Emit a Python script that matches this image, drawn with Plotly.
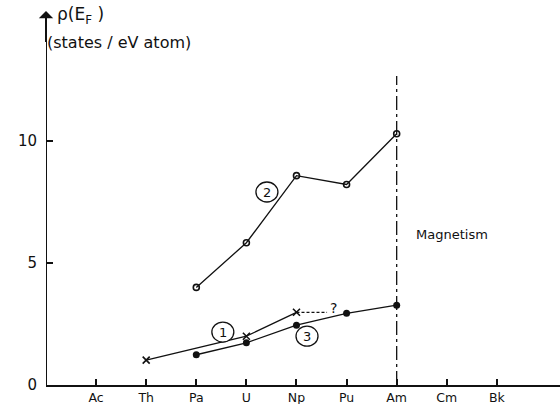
import plotly.graph_objects as go

# categories (x positions are indices)
elements = ["Ac", "Th", "Pa", "U", "Np", "Pu", "Am", "Cm", "Bk"]
elem_idx = [1, 2, 3, 4, 5, 6, 7, 8, 9]

# curve 2 (open circles)
c2_x = [3, 4, 5, 6, 7]
c2_y = [4.0, 5.83, 8.58, 8.22, 10.3]
# curve 1 (crosses)
c1_x = [2, 4, 5]
c1_y = [1.02, 2.0, 2.98]
# curve 3 (filled circles)
c3_x = [3, 4, 5, 6, 7]
c3_y = [1.24, 1.73, 2.45, 2.94, 3.27]
# uncertain extension of curve 1
q_x = [5, 5.61]
q_y = [2.98, 2.98]

y_ticks = [0, 5, 10]
magnet_x = 7
magnet_top = 12.66

# label positions (circled numbers)
lab_text = ["1", "2", "3"]
lab_x = [3.53, 4.41, 5.21]
lab_y = [2.17, 7.91, 2.0]

FONT = "DejaVu Sans"
BLACK = "#111111"

fig = go.Figure()
fig.add_trace(go.Scatter(x=c2_x, y=c2_y, mode="lines+markers",
                         line=dict(color=BLACK, width=1.3),
                         marker=dict(symbol="circle-open", size=6, color=BLACK,
                                     line=dict(width=1.6, color=BLACK))))
fig.add_trace(go.Scatter(x=c1_x, y=c1_y, mode="lines+markers",
                         line=dict(color=BLACK, width=1.3),
                         marker=dict(symbol="x-thin", size=7, color=BLACK,
                                     line=dict(width=1.6, color=BLACK))))
fig.add_trace(go.Scatter(x=c3_x, y=c3_y, mode="lines+markers",
                         line=dict(color=BLACK, width=1.3),
                         marker=dict(symbol="circle", size=7, color=BLACK)))
fig.add_trace(go.Scatter(x=q_x, y=q_y, mode="lines",
                         line=dict(color=BLACK, width=1.2, dash="3px,2px")))
fig.add_trace(go.Scatter(x=[magnet_x, magnet_x], y=[0, magnet_top], mode="lines",
                         line=dict(color=BLACK, width=1.3, dash="14px,4px,3px,4px")))
# y axis line (arrow tip added as annotation)
fig.add_trace(go.Scatter(x=[0, 0], y=[0, 15.0], mode="lines",
                         line=dict(color=BLACK, width=2), cliponaxis=False))

shapes = []
for lx, ly in zip(lab_x, lab_y):
    shapes.append(dict(type="circle", xref="x", yref="y", xsizemode="pixel",
                       ysizemode="pixel", xanchor=lx, yanchor=ly,
                       x0=-11, x1=11, y0=-10, y1=10,
                       line=dict(color=BLACK, width=1.3), fillcolor="white"))

annotations = []
for t, lx, ly in zip(lab_text, lab_x, lab_y):
    annotations.append(dict(x=lx, y=ly, text=t, showarrow=False,
                            font=dict(family=FONT, size=13, color=BLACK)))
annotations += [
    dict(x=5.63, y=3.15, text="?", showarrow=False, xanchor="left",
         font=dict(family=FONT, size=14, color=BLACK)),
    dict(x=8.1, y=6.15, text="Magnetism", showarrow=False,
         font=dict(family=FONT, size=13, color=BLACK)),
    dict(x=0.18, y=15.16, text="ρ(E<sub>F</sub> )", showarrow=False, xanchor="left",
         font=dict(family=FONT, size=17, color=BLACK)),
    dict(x=0.0, y=14.02, text="(states / eV atom)", showarrow=False, xanchor="left",
         xshift=-1, font=dict(family=FONT, size=16, color=BLACK)),
    # arrow head of y axis
    dict(x=0, y=15.33, ax=0, ay=14.0, axref="x", ayref="y", xref="x", yref="y",
         text="", showarrow=True, arrowhead=1, arrowsize=1.2, arrowwidth=2,
         arrowcolor=BLACK),
]

fig.update_layout(
    width=560, height=404,
    margin=dict(l=46, r=0, t=0, b=19),
    paper_bgcolor="white", plot_bgcolor="white",
    showlegend=False,
    shapes=shapes, annotations=annotations,
    xaxis=dict(range=[0, 10.26], tickvals=elem_idx, ticktext=elements,
               automargin=False,
               showgrid=False, zeroline=False, showline=True, linewidth=2,
               linecolor=BLACK, ticks="inside", ticklen=6, tickwidth=1.5,
               tickcolor=BLACK, tickfont=dict(family=FONT, size=12.5, color=BLACK)),
    yaxis=dict(range=[0, 15.78], tickvals=y_ticks, ticktext=[str(v) for v in y_ticks],
               automargin=False,
               showgrid=False, zeroline=False, showline=False,
               ticks="inside", ticklen=7, tickwidth=1.5, tickcolor=BLACK,
               ticklabelstandoff=8,
               tickfont=dict(family=FONT, size=15, color=BLACK)),
)

fig.write_html("out.html")
